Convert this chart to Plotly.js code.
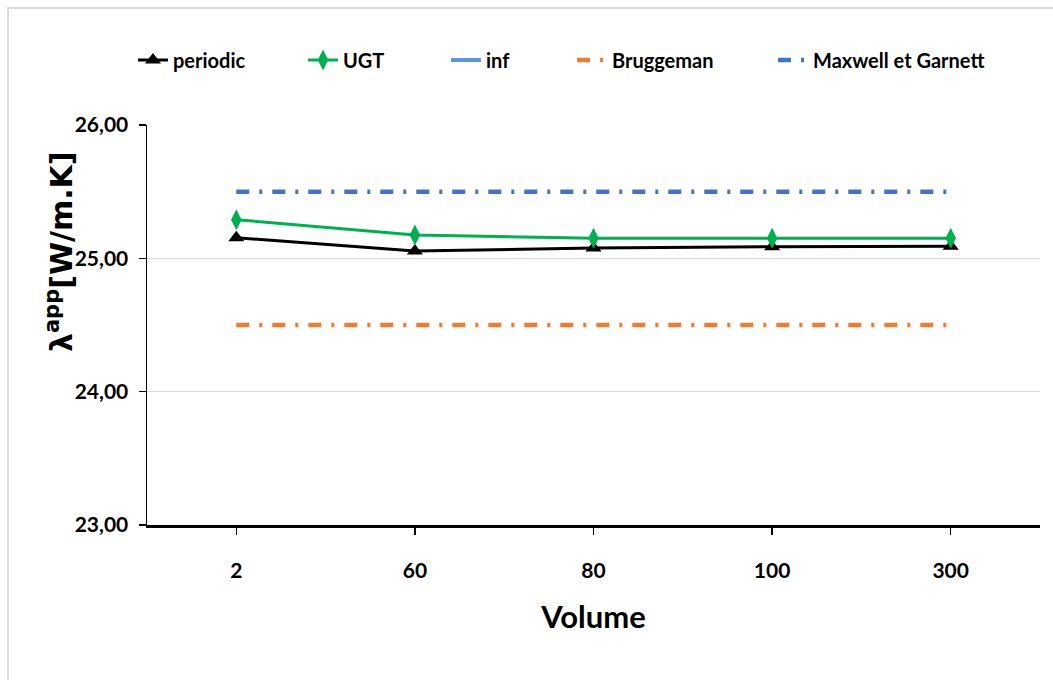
<!DOCTYPE html>
<html>
<head>
<meta charset="utf-8">
<script src="https://cdn.plot.ly/plotly-3.0.1.min.js"></script>
<style>
  html, body { margin: 0; padding: 0; background: #ffffff; overflow: hidden; }
  #frame {
    position: absolute; left: 7px; top: 7px;
    width: 1100px; height: 720px;
    border: 2px solid #d9d9d9; box-sizing: border-box;
  }
  #chart { position: absolute; left: 0; top: 0; width: 1053px; height: 680px; }
</style>
</head>
<body>
<div id="frame"></div>
<div id="chart"></div>
<script>
// Apparent thermal conductivity versus volume size
const volumes = ['2', '60', '80', '100', '300'];
const periodicValues = [25.155, 25.055, 25.077, 25.087, 25.09];
const ugtValues = [25.29, 25.175, 25.15, 25.15, 25.15];
const infValues = [null, null, null, null, null];
const bruggemanValues = [24.5, 24.5, 24.5, 24.5, 24.5];
const maxwellGarnettValues = [25.5, 25.5, 25.5, 25.5, 25.5];
const yTicks = [23, 24, 25, 26];

const labelFont = 'Lato, Roboto, sans-serif';

const traces = [
  {
    name: 'periodic', x: volumes, y: periodicValues, type: 'scatter', mode: 'lines+markers',
    line: { color: '#000000', width: 3 },
    marker: { symbol: 'triangle-up', size: 14, color: '#000000' },
    legend: 'legend'
  },
  {
    name: 'UGT', x: volumes, y: ugtValues, type: 'scatter', mode: 'lines+markers',
    line: { color: '#00b050', width: 3 },
    marker: { symbol: 'diamond-tall', size: 15, color: '#00b050' },
    legend: 'legend2'
  },
  {
    name: 'inf', x: volumes, y: infValues, type: 'scatter', mode: 'lines',
    line: { color: '#5b9bd5', width: 4 },
    legend: 'legend3'
  },
  {
    name: 'Bruggeman', x: volumes, y: bruggemanValues, type: 'scatter', mode: 'lines',
    line: { color: '#ed7d31', width: 4.5, dash: '13px,10px,3px,10px' },
    legend: 'legend4'
  },
  {
    name: 'Maxwell et Garnett', x: volumes, y: maxwellGarnettValues, type: 'scatter', mode: 'lines',
    line: { color: '#4472c4', width: 4.5, dash: '13px,10px,3px,10px' },
    legend: 'legend5'
  }
];

function legendAt(x) {
  return {
    x: x, y: 1.1625, xanchor: 'left', yanchor: 'middle',
    orientation: 'h', bgcolor: 'rgba(0,0,0,0)', borderwidth: 0,
    font: { family: labelFont, size: 20, color: '#000000', weight: 'bold' }
  };
}

const layout = {
  width: 1053, height: 680,
  margin: { l: 147, r: 13, t: 125, b: 155 },
  paper_bgcolor: 'rgba(0,0,0,0)',
  plot_bgcolor: 'rgba(0,0,0,0)',
  showlegend: true,
  legend: legendAt(-0.0157),
  legend2: legendAt(0.1747),
  legend3: legendAt(0.3348),
  legend4: legendAt(0.4759),
  legend5: legendAt(0.7010),
  xaxis: {
    type: 'category', range: [-0.5, 4.5],
    showline: true, linecolor: '#000000', linewidth: 3,
    ticks: 'outside', ticklen: 7, tickwidth: 1.5, tickcolor: '#000000',
    ticklabelstandoff: 18,
    showgrid: false, zeroline: false,
    tickfont: { family: labelFont, size: 21, color: '#000000', weight: 'bold' },
    title: {
      text: 'Volume', standoff: 26,
      font: { family: labelFont, size: 31, color: '#000000', weight: 'bold' }
    }
  },
  yaxis: {
    range: [23, 26], tickvals: yTicks, tickformat: '.2f',
    showline: true, linecolor: '#000000', linewidth: 1.5,
    ticks: 'outside', ticklen: 7, tickwidth: 1.5, tickcolor: '#000000',
    ticklabelstandoff: 6,
    showgrid: true, gridcolor: '#d9d9d9', gridwidth: 1.5, zeroline: false,
    tickfont: { family: labelFont, size: 21, color: '#000000', weight: 'bold' }
  },
  annotations: [
    {
      text: 'λ<sup>app</sup>[W/m.K]', textangle: -90, showarrow: false,
      xref: 'paper', yref: 'paper', x: -0.0985, y: 0.6825,
      xanchor: 'center', yanchor: 'middle',
      font: { family: 'DejaVu Sans, sans-serif', size: 30, color: '#000000', weight: 'bold' }
    }
  ],
  separators: ',.'
};

Plotly.newPlot('chart', traces, layout, { displayModeBar: false, staticPlot: true });
</script>
</body>
</html>
